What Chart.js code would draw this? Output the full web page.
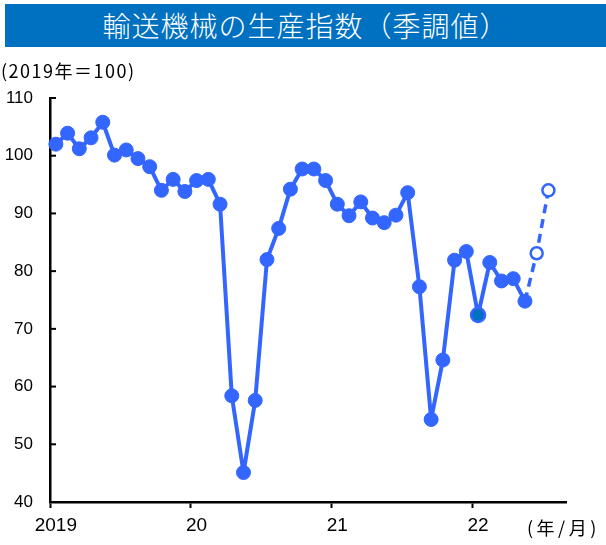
<!DOCTYPE html>
<html>
<head>
<meta charset="utf-8">
<script src="https://cdn.jsdelivr.net/npm/chart.js@4"></script>
<style>
  body { margin: 0; background: #fff; }
  #wrap { position: relative; width: 606px; height: 545px; }
  #title {
    position: absolute; left: 5px; top: 4px; width: 601px; height: 43px;
    background: #0070c0; color: #fff; text-align: center;
    font: 300 28px "Noto Sans CJK JP", sans-serif; line-height: 43px;
    letter-spacing: 1px;
  }
  .note { position: absolute; font-family: "Noto Sans CJK JP", sans-serif; color: #000; white-space: nowrap; }
  #unit { left: 1px; top: 57px; font-size: 18px; letter-spacing: 1.5px; }
  #xunit { left: 527px; top: 514px; font-size: 18px; letter-spacing: 3.5px; }
  canvas { position: absolute; left: 0; top: 0; }
</style>
</head>
<body>
<div id="wrap">
  <canvas id="prodChart" width="606" height="545"></canvas>
  <div id="title">輸送機械の生産指数（季調値）</div>
  <div class="note" id="unit">(2019年＝100)</div>
  <div class="note" id="xunit">(年/月)</div>
</div>
<script>
// Months 2019/1 .. 2022/8
const months = [];
for (let y = 2019; y <= 2022; y++) {
  for (let m = 1; m <= 12; m++) {
    if (y === 2022 && m > 8) break;
    months.push(y + '/' + m);
  }
}
const yearLabels = ['2019', '20', '21', '22'];

// Actual index, 2019/1 - 2022/5
const actual2019 = [102.0, 103.9, 101.2, 103.1, 105.8, 100.1, 101.0, 99.5, 98.1, 94.0, 95.9, 93.8];
const actual2020 = [95.7, 95.9, 91.6, 58.4, 45.1, 57.6, 82.0, 87.4, 94.2, 97.7, 97.7, 95.7];
const actual2021 = [91.6, 89.6, 92.0, 89.2, 88.4, 89.7, 93.6, 77.3, 54.3, 64.6, 81.9, 83.4];
const actual2022 = [72.4, 81.5, 78.3, 78.7, 74.8];
// Forecast, 2022/6 - 2022/7
const forecast2022 = [83.1, 94.0];

const actual = [...actual2019, ...actual2020, ...actual2021, ...actual2022];
const lastIdx = actual.length - 1;
const forecast = months.map(() => null);
forecast[lastIdx] = actual[lastIdx];
forecast2022.forEach((v, i) => { forecast[lastIdx + 1 + i] = v; });

const blue = '#3366ff';
const janIdx = 36; // 2022/1 drawn darker
const pointFill = actual.map((v, i) => i === janIdx ? '#0070c0' : blue);
const pointEdge = actual.map((v, i) => i === janIdx ? 2.5 : 1);

// inward tick marks on the value axis
const yInnerTicks = {
  id: 'yInnerTicks',
  afterDraw(chart) {
    const s = chart.scales.y;
    const c = chart.ctx;
    c.save();
    c.strokeStyle = '#000';
    c.lineWidth = 2;
    s.ticks.forEach(t => {
      const py = s.getPixelForValue(t.value);
      c.beginPath();
      c.moveTo(s.right, py);
      c.lineTo(s.right + 6, py);
      c.stroke();
    });
    c.restore();
  }
};

const ctx = document.getElementById('prodChart').getContext('2d');
new Chart(ctx, {
    type: 'line',
    data: {
        labels: months,
        datasets: [
            {
                label: '実績',
                data: actual,
                borderColor: blue,
                borderWidth: 4,
                borderJoinStyle: 'round',
                pointRadius: 7,
                pointBorderWidth: pointEdge,
                pointBackgroundColor: pointFill,
                pointBorderColor: blue,
                tension: 0,
                order: 1
            },
            {
                label: '予測',
                data: forecast,
                borderColor: blue,
                borderWidth: 3.5,
                borderDash: [9, 6],
                borderJoinStyle: 'round',
                pointRadius: forecast.map((v, i) => i > lastIdx ? 6 : 0),
                pointBorderWidth: 2.5,
                pointBackgroundColor: '#fff',
                pointBorderColor: blue,
                tension: 0,
                order: 2
            }
        ]
    },
    options: {
        responsive: false,
        animation: false,
        layout: { padding: { top: 98, right: 40, left: 0, bottom: 0 } },
        plugins: {
            legend: { display: false },
            tooltip: { enabled: false }
        },
        scales: {
            x: {
                offset: true,
                grid: {
                    offset: true,
                    drawOnChartArea: false,
                    drawTicks: true,
                    tickLength: 6,
                    tickWidth: 2,
                    tickColor: c => (c.index % 12 === 0 ? '#000' : 'rgba(0,0,0,0)')
                },
                border: { display: true, color: '#000', width: 2.5 },
                ticks: {
                    autoSkip: false,
                    maxRotation: 0,
                    padding: 6,
                    color: '#000',
                    font: { family: 'Liberation Sans', size: 19 },
                    callback: (v, i) => (i % 12 === 0 ? yearLabels[i / 12] : '')
                },
                afterFit: s => { s.height = 43; }
            },
            y: {
                min: 40,
                max: 110,
                grid: { drawOnChartArea: false, drawTicks: false },
                border: { display: true, color: '#000', width: 2.5 },
                ticks: {
                    stepSize: 10,
                    padding: 17,
                    color: '#000',
                    font: { family: 'Liberation Sans', size: 17 }
                },
                afterFit: s => { s.width = 50; }
            }
        }
    },
    plugins: [yInnerTicks]
});
</script>
</body>
</html>
